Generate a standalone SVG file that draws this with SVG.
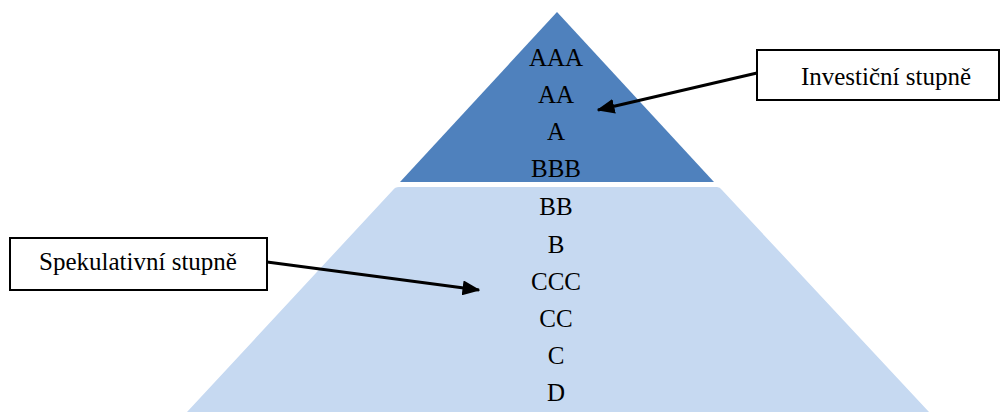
<svg xmlns="http://www.w3.org/2000/svg" width="1002" height="412" viewBox="0 0 1002 412">
<defs>
<style>
.t{font-family:"Liberation Serif","Times New Roman",serif;font-size:25px;fill:#000;text-anchor:middle}
.box{fill:#fff;stroke:#000;stroke-width:2}
.con{stroke:#000;stroke-width:3;fill:none}
</style>
<marker id="ah" markerWidth="6" markerHeight="5" refX="5.5" refY="2.5" orient="auto" markerUnits="strokeWidth">
<path d="M0,0 L6,2.5 L0,5 Z" fill="#000"/>
</marker>
</defs>
<rect width="1002" height="412" fill="#fff"/>
<g id="speculative-tier">
<path d="M399,187 L717,187 Q720,187 722,190 L929,412 L187,412 L393,190 Q395,187 399,187 Z" fill="#C6D9F1"/>
<text class="t" x="556" y="215">BB</text>
<text class="t" x="556" y="253">B</text>
<text class="t" x="556" y="290">CCC</text>
<text class="t" x="556" y="327">CC</text>
<text class="t" x="556" y="364">C</text>
<text class="t" x="556" y="401">D</text>
</g>
<g id="investment-tier">
<path d="M557,12 L714,182 L400,182 Z" fill="#4F81BD"/>
<text class="t" x="556" y="66">AAA</text>
<text class="t" x="556" y="103">AA</text>
<text class="t" x="556" y="140">A</text>
<text class="t" x="556" y="177">BBB</text>
</g>
<g id="label-investicni">
<rect class="box" x="757" y="50" width="242" height="50"/>
<text class="t" x="886" y="85">Investiční stupně</text>
</g>
<g id="label-spekulativni">
<rect class="box" x="10" y="238" width="257" height="52"/>
<text class="t" x="138" y="270">Spekulativní stupně</text>
</g>
<g id="connectors">
<line class="con" x1="757" y1="73" x2="598" y2="110" marker-end="url(#ah)"/>
<line class="con" x1="267" y1="262" x2="479" y2="290" marker-end="url(#ah)"/>
</g>
</svg>
